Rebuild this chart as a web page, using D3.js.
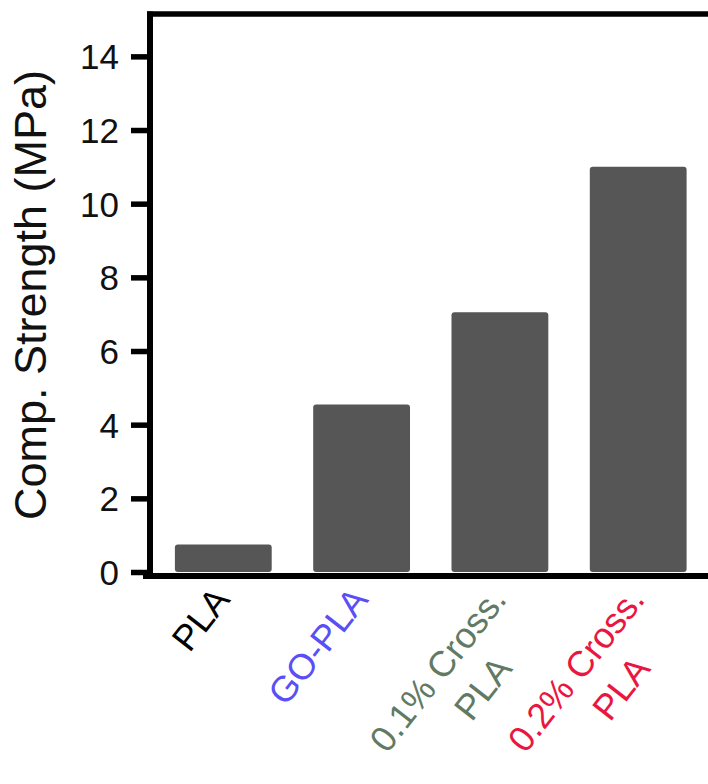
<!DOCTYPE html>
<html>
<head>
<meta charset="utf-8">
<script src="https://cdn.jsdelivr.net/npm/d3@7"></script>
<style>
  body { margin: 0; background: #fff; }
  text { font-family: "Liberation Sans", Arial, sans-serif; }
</style>
</head>
<body>
<div id="chart"></div>
<script>
// chart data
var categories = ["PLA", "GO-PLA", "0.1% Cross. PLA", "0.2% Cross. PLA"];
var labelLines = [["PLA"], ["GO-PLA"], ["0.1% Cross.", "PLA"], ["0.2% Cross.", "PLA"]];
var strength = [0.75, 4.55, 7.05, 11.0];
var yTicks = [0, 2, 4, 6, 8, 10, 12, 14];

// label colours
var labelColors = ["#000000", "#5a4ff5", "#617a63", "#ea1641"];

var svgWidth = 708, svgHeight = 784;
var plotLeft = 150, plotTop = 14, zeroY = 572;

var svg = d3.select("#chart").append("svg")
  .attr("width", svgWidth)
  .attr("height", svgHeight);

var x = d3.scaleBand()
  .domain(categories)
  .range([plotLeft, 711.5])
  .paddingInner(0.3)
  .paddingOuter(0.18);

var y = d3.scaleLinear()
  .domain([0, 15.15])
  .range([zeroY, plotTop]);

// bars
svg.selectAll(".bar")
  .data(strength)
  .enter()
  .append("rect")
  .attr("class", "bar")
  .attr("x", (d, i) => x(categories[i]))
  .attr("y", d => y(d))
  .attr("width", x.bandwidth())
  .attr("height", d => y(0) - y(d))
  .attr("rx", 3)
  .attr("fill", "#565656");

// left axis
var leftAxis = d3.axisLeft(y)
  .tickValues(yTicks)
  .tickSize(19)
  .tickPadding(12)
  .tickFormat(d3.format("d"));

var yAxis = svg.append("g")
  .attr("transform", `translate(${plotLeft}, 0)`)
  .call(leftAxis);

yAxis.select(".domain").remove();
yAxis.selectAll(".tick line")
  .attr("stroke", "#000")
  .attr("stroke-width", 5.5);
yAxis.selectAll(".tick text")
  .attr("font-size", "35px")
  .attr("fill", "#111")
  .attr("dy", "0.36em");

// frame lines: top, left, bottom
svg.append("line")
  .attr("x1", plotLeft - 3).attr("x2", svgWidth)
  .attr("y1", plotTop).attr("y2", plotTop)
  .attr("stroke", "#000").attr("stroke-width", 5.5);
svg.append("line")
  .attr("x1", plotLeft).attr("x2", plotLeft)
  .attr("y1", plotTop - 2.5).attr("y2", zeroY + 7)
  .attr("stroke", "#000").attr("stroke-width", 6);
svg.append("line")
  .attr("x1", plotLeft - 7).attr("x2", svgWidth)
  .attr("y1", zeroY + 4).attr("y2", zeroY + 4)
  .attr("stroke", "#000").attr("stroke-width", 6);

// y axis title
svg.append("text")
  .attr("transform", `translate(46, ${(y(0) + y(15.15)) / 2 + 2}) rotate(-90)`)
  .attr("text-anchor", "middle")
  .attr("font-size", "45px")
  .attr("fill", "#111")
  .text("Comp. Strength (MPa)");

// rotated category labels
var labels = svg.selectAll(".xlabel")
  .data(categories)
  .enter()
  .append("text")
  .attr("class", "xlabel")
  .attr("transform", d => `translate(${x(d) + x.bandwidth() / 2 + 8}, ${zeroY + 28}) rotate(-52)`)
  .attr("text-anchor", "end")
  .attr("font-size", "36px")
  .attr("fill", (d, i) => labelColors[i]);

labels.each(function(d, i) {
  var t = d3.select(this);
  var lines = labelLines[i];
  var first = t.append("tspan").attr("x", 0).attr("y", 0).text(lines[0]);
  if (lines.length > 1) {
    var w1 = first.node().getComputedTextLength();
    var second = t.append("tspan").attr("y", 47).text(lines[1]);
    var w2 = second.node().getComputedTextLength();
    second.attr("x", -w1 / 2 + 13 + w2 / 2);
  }
});
</script>
</body>
</html>
